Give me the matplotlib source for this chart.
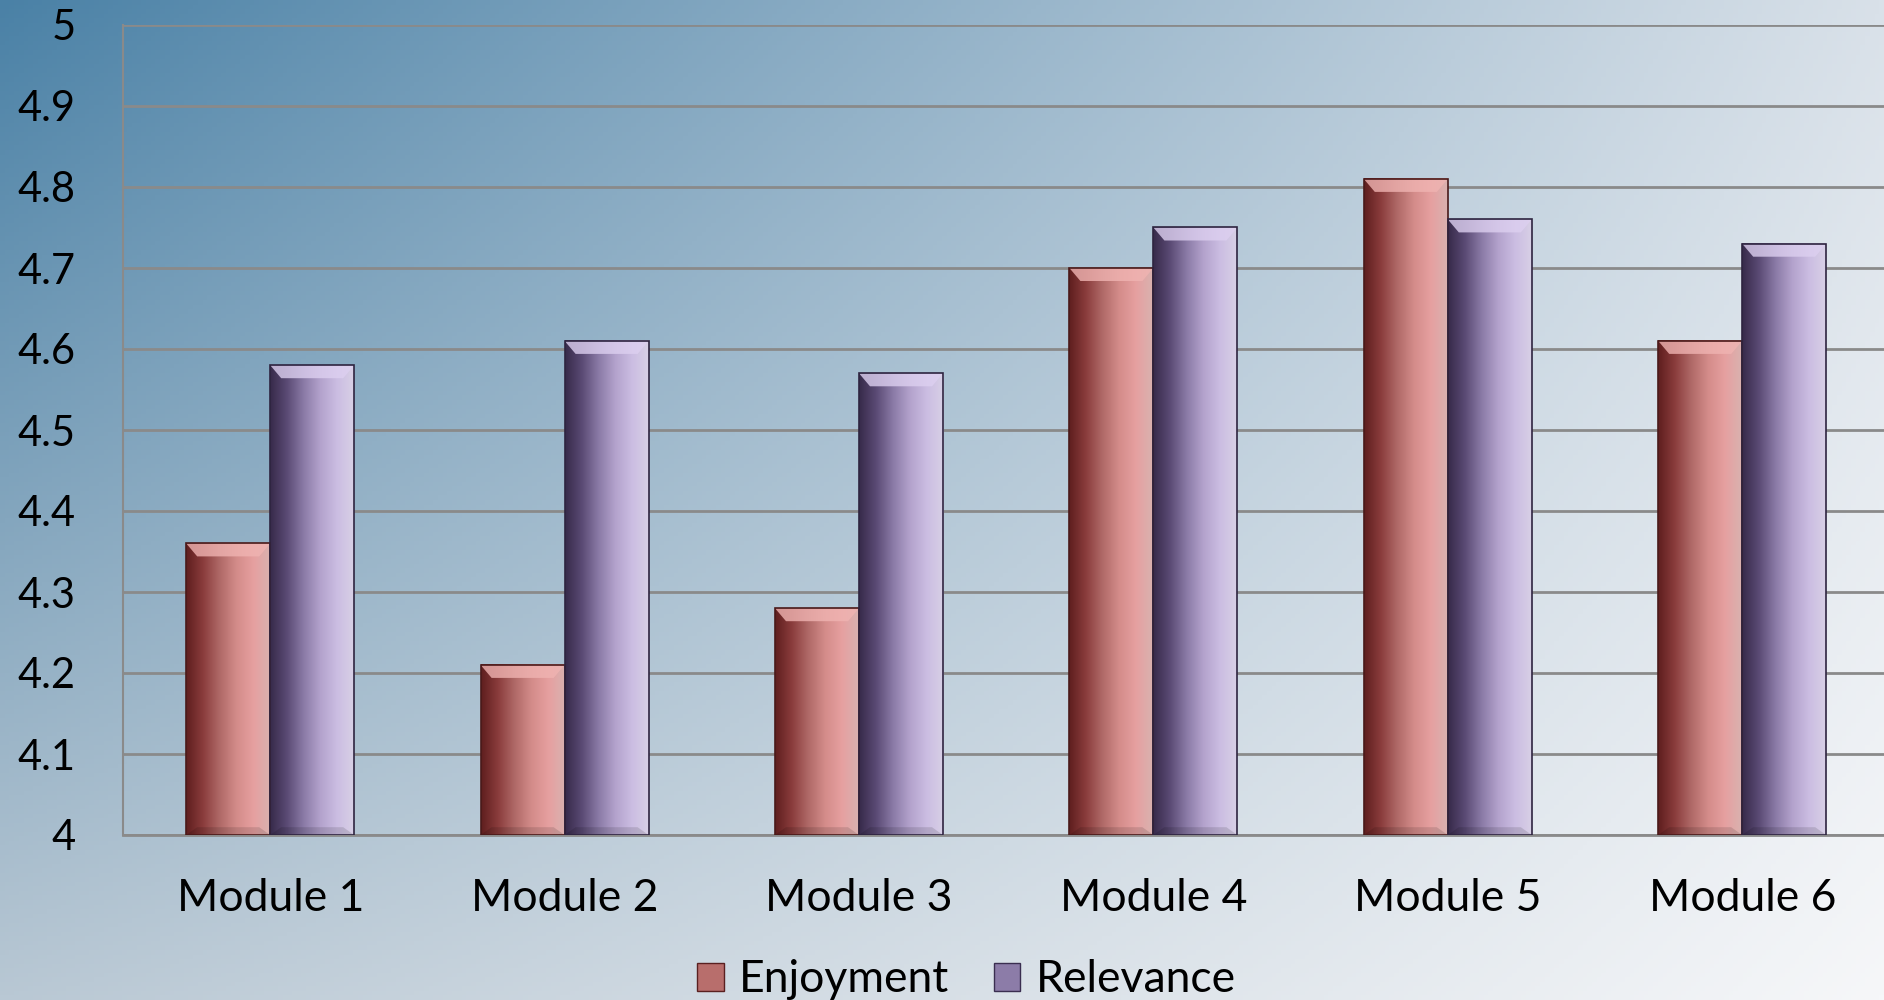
import numpy as np
import matplotlib
matplotlib.use("Agg")
import matplotlib.pyplot as plt
from matplotlib.colors import LinearSegmentedColormap, to_rgb
from matplotlib.patches import Polygon, Rectangle, Patch

modules = ["Module 1", "Module 2", "Module 3", "Module 4", "Module 5", "Module 6"]
enjoyment = [4.36, 4.21, 4.28, 4.70, 4.81, 4.61]
relevance = [4.58, 4.61, 4.57, 4.75, 4.76, 4.73]
yticks = [4, 4.1, 4.2, 4.3, 4.4, 4.5, 4.6, 4.7, 4.8, 4.9, 5]
ytick_labels = ["4", "4.1", "4.2", "4.3", "4.4", "4.5", "4.6", "4.7", "4.8", "4.9", "5"]

plt.rcParams["font.family"] = ["Lato", "DejaVu Sans"]

W, H = 1884, 1000
fig = plt.figure(figsize=(W / 100, H / 100), dpi=100)

# diagonal background gradient (bilinear between corner colours)
bg = fig.add_axes([0, 0, 1, 1], zorder=-10)
tl, tr = np.array(to_rgb("#4a81a6")), np.array(to_rgb("#d9e1e9"))
bl, br = np.array(to_rgb("#b9c8d4")), np.array(to_rgb("#f6f7f9"))
u = np.linspace(0, 1, 400)[None, :, None]
v = np.linspace(0, 1, 220)[:, None, None]
top = tl + (tr - tl) * u
bot = bl + (br - bl) * u
img = top + (bot - top) * v
bg.imshow(img, aspect="auto", extent=[0, 1, 0, 1], origin="upper")
bg.set_axis_off()

left_px, top_px, bot_px = 123, 25, 835
ax = fig.add_axes([left_px / W, 1 - bot_px / H, 1 - left_px / W, (bot_px - top_px) / H])
ax.patch.set_alpha(0)
cat_px = 294.4
ax.set_xlim(-0.5, -0.5 + (W - left_px) / cat_px)
ax.set_ylim(4, 5)

cmaps = {
    "e": LinearSegmentedColormap.from_list(
        "e", ["#5e1e1e", "#8a3c3c", "#b06a68", "#d48c8a", "#e6a0a0", "#d9b2b0"]),
    "r": LinearSegmentedColormap.from_list(
        "r", ["#372a4a", "#5a4a74", "#8a7aa6", "#b3a2cc", "#cbbde2", "#d8d0e6"]),
}
top_col = {"e": "#f0b4b2", "r": "#ddd0f0"}
edge_col = {"e": "#4a1a1a", "r": "#2e2440"}

bw = 84 / cat_px
grad = np.linspace(0, 1, 256)[None, :]
bev_y = 13 / (bot_px - top_px)
bev_x = 11 / cat_px


def draw_bar(x0, val, key):
    ax.imshow(grad, cmap=cmaps[key], aspect="auto",
              extent=[x0, x0 + bw, 4, val], zorder=3, interpolation="bilinear")
    # top bevel
    ax.add_patch(Polygon([[x0, val], [x0 + bw, val], [x0 + bw - bev_x, val - bev_y],
                          [x0 + bev_x, val - bev_y]], closed=True,
                         facecolor=top_col[key], edgecolor="none", alpha=0.8, zorder=4))
    # bottom shade
    ax.add_patch(Polygon([[x0, 4], [x0 + bw, 4], [x0 + bw - bev_x, 4 + bev_y * 0.6],
                          [x0 + bev_x, 4 + bev_y * 0.6]], closed=True,
                         facecolor="black", edgecolor="none", alpha=0.12, zorder=4))
    ax.add_patch(Rectangle((x0, 4), bw, val - 4, facecolor="none",
                           edgecolor=edge_col[key], linewidth=1.2, zorder=5))


x = np.arange(len(modules))
for i in x:
    draw_bar(i - bw, enjoyment[i], "e")
    draw_bar(i, relevance[i], "r")

ax.set_yticks(yticks)
ax.set_yticklabels(ytick_labels)
ax.set_xticks(x)
ax.set_xticklabels(modules)
ax.yaxis.grid(True, color="#8a8a8a", linewidth=2, zorder=0)
ax.set_axisbelow(True)
ax.tick_params(axis="both", length=0, colors="black")
ax.tick_params(axis="y", pad=34, labelsize=30)
ax.tick_params(axis="x", pad=31, labelsize=32)
for s in ["top", "right"]:
    ax.spines[s].set_visible(False)
ax.spines["left"].set_color("#8a8a8a")
ax.spines["left"].set_linewidth(1.5)
ax.spines["bottom"].set_color("#8a8a8a")
ax.spines["bottom"].set_linewidth(2)

handles = [Patch(facecolor="#b86e6c", edgecolor="#5a2020", label="Enjoyment"),
           Patch(facecolor="#8c7ca8", edgecolor="#3a2e50", label="Relevance")]
fig.legend(handles=handles, loc="center", bbox_to_anchor=(0.513, 0.02), ncol=2,
           frameon=False, fontsize=32, handlelength=0.6, handleheight=0.6,
           handletextpad=0.35, columnspacing=1.0)

fig.savefig("out.png", dpi=100)
